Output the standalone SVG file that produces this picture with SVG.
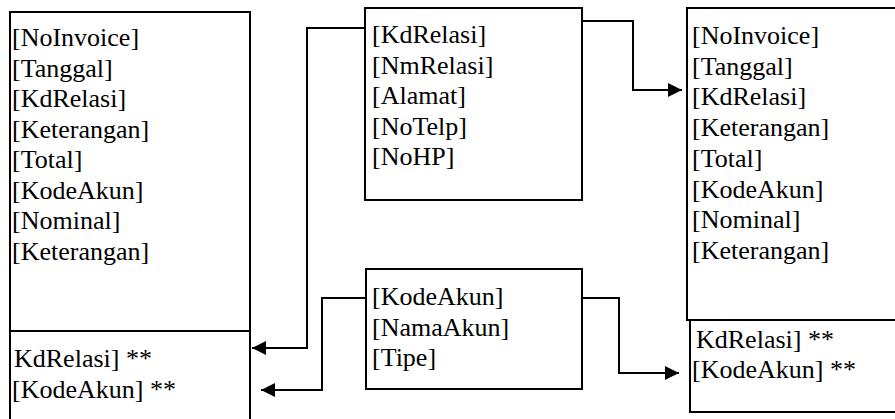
<svg xmlns="http://www.w3.org/2000/svg" width="895" height="419" viewBox="0 0 895 419" font-family="serif">
<defs>
<marker id="arr" viewBox="0 0 14 14" markerWidth="14" markerHeight="14" refX="14" refY="7" orient="auto" markerUnits="userSpaceOnUse">
<path d="M0,0 L14,7 L0,14 z" fill="#000"/>
</marker>
</defs>
<rect width="895" height="419" fill="#fff"/>
<g id="left-table">
<rect x="10" y="12" width="240" height="319" fill="#fff" stroke="#000" stroke-width="2"/>
<rect x="10" y="331" width="240" height="100" fill="#fff" stroke="#000" stroke-width="2"/>
<text x="12" y="46" font-family="Liberation Serif, serif" font-size="26">[NoInvoice]</text>
<text x="12" y="76.5" font-family="Liberation Serif, serif" font-size="26">[Tanggal]</text>
<text x="12" y="107" font-family="Liberation Serif, serif" font-size="26">[KdRelasi]</text>
<text x="12" y="137.5" font-family="Liberation Serif, serif" font-size="26">[Keterangan]</text>
<text x="12" y="168" font-family="Liberation Serif, serif" font-size="26">[Total]</text>
<text x="12" y="198.5" font-family="Liberation Serif, serif" font-size="26">[KodeAkun]</text>
<text x="12" y="229" font-family="Liberation Serif, serif" font-size="26">[Nominal]</text>
<text x="12" y="259.5" font-family="Liberation Serif, serif" font-size="26">[Keterangan]</text>
<text x="14" y="367" font-family="Liberation Serif, serif" font-size="26">KdRelasi] **</text>
<text x="12" y="397.5" font-family="Liberation Serif, serif" font-size="26">[KodeAkun] **</text>
</g>
<g id="relasi-table">
<rect x="365" y="8" width="217" height="192" fill="#fff" stroke="#000" stroke-width="2"/>
<text x="372" y="43" font-family="Liberation Serif, serif" font-size="26">[KdRelasi]</text>
<text x="372" y="73.5" font-family="Liberation Serif, serif" font-size="26">[NmRelasi]</text>
<text x="372" y="104" font-family="Liberation Serif, serif" font-size="26">[Alamat]</text>
<text x="372" y="134.5" font-family="Liberation Serif, serif" font-size="26">[NoTelp]</text>
<text x="372" y="165" font-family="Liberation Serif, serif" font-size="26">[NoHP]</text>
</g>
<g id="akun-table">
<rect x="366" y="269" width="216" height="120" fill="#fff" stroke="#000" stroke-width="2"/>
<text x="372" y="305" font-family="Liberation Serif, serif" font-size="26">[KodeAkun]</text>
<text x="372" y="335.5" font-family="Liberation Serif, serif" font-size="26">[NamaAkun]</text>
<text x="372" y="366" font-family="Liberation Serif, serif" font-size="26">[Tipe]</text>
</g>
<g id="right-table">
<rect x="687" y="8" width="220" height="312" fill="#fff" stroke="#000" stroke-width="2"/>
<rect x="690" y="320" width="220" height="92" fill="#fff" stroke="#000" stroke-width="2"/>
<text x="692" y="44" font-family="Liberation Serif, serif" font-size="26">[NoInvoice]</text>
<text x="692" y="74.7" font-family="Liberation Serif, serif" font-size="26">[Tanggal]</text>
<text x="692" y="105.4" font-family="Liberation Serif, serif" font-size="26">[KdRelasi]</text>
<text x="692" y="136.1" font-family="Liberation Serif, serif" font-size="26">[Keterangan]</text>
<text x="692" y="166.8" font-family="Liberation Serif, serif" font-size="26">[Total]</text>
<text x="692" y="197.5" font-family="Liberation Serif, serif" font-size="26">[KodeAkun]</text>
<text x="692" y="228.2" font-family="Liberation Serif, serif" font-size="26">[Nominal]</text>
<text x="692" y="258.9" font-family="Liberation Serif, serif" font-size="26">[Keterangan]</text>
<text x="696" y="347.5" font-family="Liberation Serif, serif" font-size="26">KdRelasi] **</text>
<text x="692" y="378" font-family="Liberation Serif, serif" font-size="26">[KodeAkun] **</text>
</g>
<g id="connectors" fill="none" stroke="#000" stroke-width="2">
<path d="M365,28 H307 V348 H252" marker-end="url(#arr)"/>
<path d="M366,298 H322 V390 H261" marker-end="url(#arr)"/>
<path d="M582,298 H619 V373 H679" marker-end="url(#arr)"/>
<path d="M582,21 H633 V90 H682" marker-end="url(#arr)"/>
</g>
</svg>
